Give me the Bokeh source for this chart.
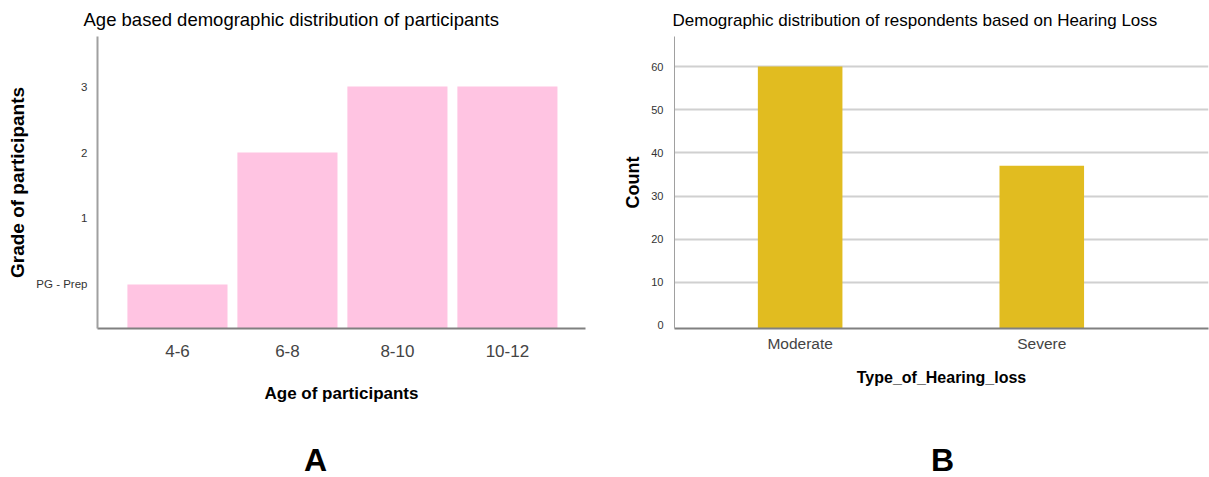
from bokeh.plotting import figure
from bokeh.layouts import column, row
from bokeh.models import Range1d, FixedTicker
from bokeh.core.properties import value
from bokeh.embed import file_html
from bokeh.resources import INLINE

# ---- data ----
age_groups = ["4-6", "6-8", "8-10", "10-12"]
grade_values = [0, 2, 3, 3]
grade_ticks = [0, 1, 2, 3]
grade_labels = ["PG - Prep", "1", "2", "3"]

loss_types = ["Moderate", "Severe"]
loss_counts = [60, 37]
count_ticks = [0, 10, 20, 30, 40, 50, 60]

panel_letters = ["A", "B"]

FONT = "Liberation Sans"
PINK = "#FFC4E2"
GOLD = "#E1BC20"

# ---- left chart ----
xa = list(range(len(age_groups)))
ymin_a = -0.667
p1 = figure(width=600, height=420, output_backend="svg", toolbar_location=None,
            x_range=Range1d(-0.727, 3.71), y_range=Range1d(ymin_a, 3.758),
            min_border_left=97, min_border_right=15, min_border_top=36, min_border_bottom=92)
p1.vbar(x=xa, top=grade_values, bottom=ymin_a, width=0.91, fill_color=PINK, line_color=None)
p1.title.text = "Age based demographic distribution of participants"
p1.title.text_font = FONT
p1.title.text_font_size = "18.5px"
p1.title.text_font_style = "normal"
p1.title.text_color = "#000000"
p1.title.offset = -14
p1.title.standoff = 13
p1.outline_line_color = None
p1.grid.visible = False
p1.xaxis.ticker = FixedTicker(ticks=xa)
p1.xaxis.major_label_overrides = {i: s for i, s in enumerate(age_groups)}
p1.yaxis.ticker = FixedTicker(ticks=grade_ticks)
p1.yaxis.major_label_overrides = {t: s for t, s in zip(grade_ticks, grade_labels)}
for ax in (p1.xaxis, p1.yaxis):
    ax.major_tick_line_color = None
    ax.minor_tick_line_color = None
    ax.axis_label_text_font = FONT
    ax.axis_label_text_font_style = "bold"
    ax.axis_label_text_color = "#000000"
    ax.major_label_text_font = FONT
p1.xaxis.axis_label = "Age of participants"
p1.xaxis.axis_label_text_font_size = "17px"
p1.xaxis.axis_line_color = "#808080"
p1.xaxis.axis_line_width = 2
p1.xaxis.major_label_text_font_size = "17px"
p1.xaxis.major_label_text_color = "#444444"
p1.xaxis.major_label_standoff = 10
p1.xaxis.axis_label_standoff = 24
p1.yaxis.axis_label = "Grade of participants"
p1.yaxis.axis_label_text_font_size = "19px"
p1.yaxis.axis_line_color = "#a0a0a0"
p1.yaxis.axis_line_width = 2
p1.yaxis.major_label_text_font_size = "11.5px"
p1.yaxis.major_label_text_color = "#333333"
p1.yaxis.major_label_standoff = 4
p1.yaxis.axis_label_standoff = 5

# ---- right chart ----
xb = list(range(len(loss_types)))
ymin_b = -0.695
p2 = figure(width=609, height=420, output_backend="svg", toolbar_location=None,
            x_range=Range1d(-0.52, 1.69), y_range=Range1d(ymin_b, 66.95),
            min_border_left=74, min_border_right=1, min_border_top=36, min_border_bottom=92)
p2.vbar(x=xb, top=loss_counts, bottom=ymin_b, width=0.35, fill_color=GOLD, line_color=None)
p2.title.text = "Demographic distribution of respondents based on Hearing Loss"
p2.title.text_font = FONT
p2.title.text_font_size = "17px"
p2.title.text_font_style = "normal"
p2.title.text_color = "#000000"
p2.title.offset = -2
p2.title.standoff = 13
p2.outline_line_color = None
p2.xgrid.visible = False
p2.ygrid.ticker = FixedTicker(ticks=count_ticks[1:])
p2.ygrid.grid_line_color = "#d0d0d0"
p2.ygrid.grid_line_width = 2
p2.ygrid.level = "underlay"
p2.xaxis.ticker = FixedTicker(ticks=xb)
p2.xaxis.major_label_overrides = {i: s for i, s in enumerate(loss_types)}
p2.yaxis.ticker = FixedTicker(ticks=count_ticks)
for ax in (p2.xaxis, p2.yaxis):
    ax.major_tick_line_color = None
    ax.minor_tick_line_color = None
    ax.axis_label_text_font = FONT
    ax.axis_label_text_font_style = "bold"
    ax.axis_label_text_color = "#000000"
    ax.major_label_text_font = FONT
p2.xaxis.axis_label = "Type_of_Hearing_loss"
p2.xaxis.axis_label_text_font_size = "16px"
p2.xaxis.axis_line_color = "#808080"
p2.xaxis.axis_line_width = 2
p2.xaxis.major_label_text_font_size = "15.5px"
p2.xaxis.major_label_text_color = "#444444"
p2.xaxis.major_label_standoff = 0
p2.xaxis.axis_label_standoff = 14
p2.yaxis.axis_label = "Count"
p2.yaxis.axis_label_text_font_size = "18px"
p2.yaxis.axis_line_color = "#a0a0a0"
p2.yaxis.axis_line_width = 1
p2.yaxis.major_label_text_font_size = "11px"
p2.yaxis.major_label_text_color = "#333333"
p2.yaxis.major_label_standoff = 5
p2.yaxis.axis_label_standoff = 5

# ---- panel letters ----
def letter_fig(w, letter, xpos):
    f = figure(width=w, height=57, output_backend="svg", toolbar_location=None,
               x_range=Range1d(0, w), y_range=Range1d(0, 57),
               min_border=0)
    f.axis.visible = False
    f.grid.visible = False
    f.outline_line_color = None
    f.text(x=[xpos], y=[0], text=[letter], text_font=value(FONT), text_font_style="bold",
           text_font_size="32px", text_align="center", text_baseline="bottom",
           text_color="#000000")
    return f

pa = letter_fig(600, panel_letters[0], 315)
pb = letter_fig(609, panel_letters[1], 342)

layout = column(row(p1, p2), row(pa, pb))
open("out.html", "w").write(file_html(layout, INLINE))
